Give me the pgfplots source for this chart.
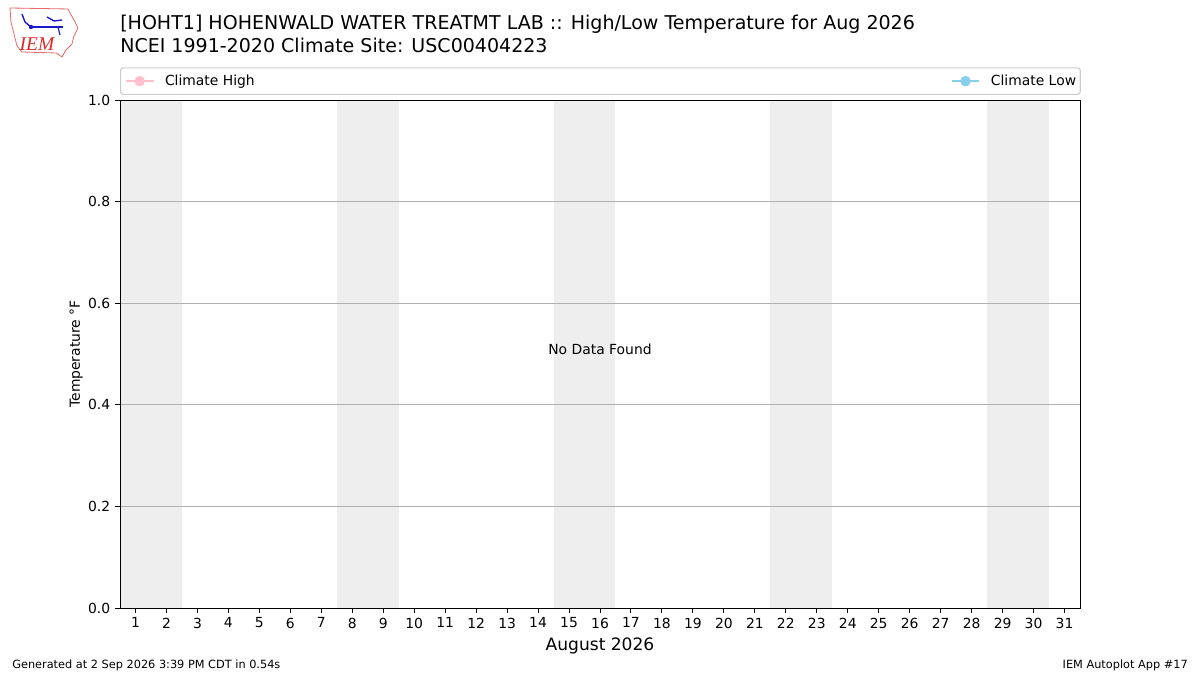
\documentclass[border=0pt]{standalone}
\usepackage{fontspec}
\setmainfont{DejaVu Sans}
\newfontfamily\logofont{Liberation Serif}
\usepackage{pgfplots}
\pgfplotsset{compat=1.18}

\definecolor{bandgray}{HTML}{EEEEEE}
\definecolor{gridgray}{HTML}{B0B0B0}
\definecolor{climhigh}{HTML}{FFC0CB}
\definecolor{climlow}{HTML}{87CEEB}
\definecolor{iemred}{HTML}{DC2828}
\definecolor{iemblue}{HTML}{1A1AC8}

\begin{document}
\begin{tikzpicture}
  \path[use as bounding box] (0,0) rectangle (864pt,486pt);

  \begin{axis}[
    at={(86.4pt,48.24pt)}, anchor=south west,
    scale only axis,
    width=691.2pt, height=365.76pt,
    xmin=0.5, xmax=31.5, ymin=0, ymax=1,
    xtick={1,...,31},
    ytick={0,0.2,0.4,0.6,0.8,1.0},
    tick pos=left,
    tick align=outside,
    major tick length=3.5pt,
    every tick/.style={black, line width=0.7pt},
    axis line style={line width=0.7pt},
    axis on top,
    ymajorgrids=true,
    major grid style={gridgray, line width=0.7pt},
    ticklabel style={font=\fontsize{10}{12}\selectfont},
    /pgf/number format/assume math mode=true,
    yticklabel style={/pgf/number format/.cd, fixed, fixed zerofill, precision=1},
    xlabel={August 2026},
    xlabel style={font=\fontsize{12.3}{14}\selectfont},
    ylabel={Temperature °F},
    ylabel shift=-3pt,
    ylabel style={font=\fontsize{10}{12}\selectfont},
    legend columns=2,
    legend cell align=left,
    legend image code/.code={
      \draw[#1, mark=none] (0pt,0pt) -- (20pt,0pt);
      \draw[#1, only marks] plot coordinates {(10pt,0pt)};
    },
    legend style={
      at={(axis description cs:0,1)}, anchor=south west, yshift=3.6pt,
      draw=gray!40, line width=0.8pt, rounded corners=2pt,
      font=\fontsize{10}{12}\selectfont,
      inner xsep=3pt, inner ysep=3pt,
      column sep=7.5pt,
      nodes={inner xsep=0pt, inner ysep=2pt},
      /tikz/column 2/.style={column sep=501pt},
    },
  ]

    % weekend bands (Sat/Sun)
    \addplot[fill=bandgray, draw=none, forget plot] coordinates {(0.5,1) (2.5,1)} \closedcycle;
    \addplot[fill=bandgray, draw=none, forget plot] coordinates {(7.5,1) (9.5,1)} \closedcycle;
    \addplot[fill=bandgray, draw=none, forget plot] coordinates {(14.5,1) (16.5,1)} \closedcycle;
    \addplot[fill=bandgray, draw=none, forget plot] coordinates {(21.5,1) (23.5,1)} \closedcycle;
    \addplot[fill=bandgray, draw=none, forget plot] coordinates {(28.5,1) (30.5,1)} \closedcycle;

    \addlegendimage{color=climhigh, line width=1.5pt, mark=*, mark size=3pt}
    \addlegendentry{Climate High}
    \addlegendimage{color=climlow, line width=1.5pt, mark=*, mark size=3pt}
    \addlegendentry{Climate Low}

    \node[font=\fontsize{10}{12}\selectfont] at (axis cs:16,0.51) {No Data Found};
  \end{axis}

  \begin{scope}[shift={(0,486pt)}, x=0.72pt, y=-0.72pt]
    % titles
    \node[anchor=base west, inner sep=0pt, font=\fontsize{13.7}{16}\selectfont]
      at (120,30) {[HOHT1] HOHENWALD WATER TREATMT LAB :: High/Low Temperature for Aug 2026};
    \node[anchor=base west, inner sep=0pt, font=\fontsize{13.7}{16}\selectfont]
      at (120,53) {NCEI 1991-2020 Climate Site: USC00404223};
    % footer
    \node[anchor=base west, inner sep=0pt, font=\fontsize{8.15}{10}\selectfont]
      at (12,669) {Generated at 2 Sep 2026 3:39 PM CDT in 0.54s};
    \node[anchor=base east, inner sep=0pt, font=\fontsize{8.15}{10}\selectfont]
      at (1188,669) {IEM Autoplot App \#17};
    % logo
    \draw[iemred!70, line width=0.6pt]
      (10,8) -- (68,9) -- (70,13) -- (74,20) -- (78,28) -- (74,36) -- (72,44)
      -- (66,50) -- (62,57) -- (56,53) -- (22,52) -- (17,46) -- (14,34)
      -- (11,22) -- cycle;
    \draw[iemblue, line width=1pt] (31,27) -- (63,27);
    \fill[iemblue] (31,27) circle (2.2);
    \draw[iemblue, line width=1pt] (22,14) -- (25,22) -- (31,27);
    \draw[iemblue, line width=1pt] (47,17) -- (54,21) -- (62,20);
    \draw[iemblue, line width=0.8pt] (58,27) -- (60,35);
    \node[anchor=base, inner sep=0pt, text=iemred, font=\logofont\itshape\fontsize{14}{16}\selectfont]
      at (37,51) {IEM};
  \end{scope}
\end{tikzpicture}
\end{document}
